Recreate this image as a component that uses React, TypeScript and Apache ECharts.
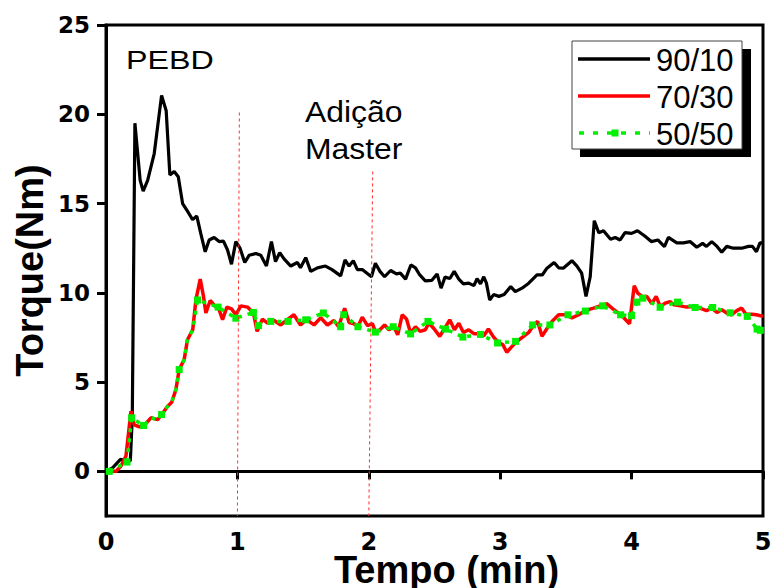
import React, { useEffect, useRef } from "react";
import * as echarts from "echarts";

// ---- data ----
const xTicks = [0, 1, 2, 3, 4, 5];
const yTicks = [0, 5, 10, 15, 20, 25];
const seriesNames = ["90/10", "70/30", "50/50"];

const blackX = [0, 0.05, 0.11, 0.15, 0.185, 0.2, 0.22, 0.26, 0.283, 0.317, 0.367, 0.423, 0.458, 0.486, 0.519, 0.55, 0.583, 0.626, 0.659, 0.691, 0.722, 0.755, 0.785, 0.823, 0.861, 0.894, 0.925, 0.955, 0.988, 1.02, 1.056, 1.089, 1.14, 1.178, 1.221, 1.259, 1.29, 1.322, 1.355, 1.406, 1.457, 1.48, 1.52, 1.558, 1.609, 1.67, 1.72, 1.786, 1.819, 1.85, 1.882, 1.913, 1.95, 2.02, 2.05, 2.085, 2.12, 2.166, 2.21, 2.24, 2.28, 2.32, 2.355, 2.388, 2.43, 2.48, 2.52, 2.55, 2.58, 2.617, 2.65, 2.685, 2.72, 2.76, 2.8, 2.824, 2.85, 2.875, 2.895, 2.92, 2.95, 2.99, 3.03, 3.08, 3.115, 3.166, 3.217, 3.28, 3.32, 3.356, 3.41, 3.445, 3.48, 3.546, 3.584, 3.62, 3.653, 3.685, 3.716, 3.75, 3.786, 3.84, 3.875, 3.913, 3.95, 4.0, 4.045, 4.1, 4.15, 4.2, 4.25, 4.28, 4.344, 4.394, 4.445, 4.496, 4.54, 4.57, 4.61, 4.65, 4.686, 4.724, 4.774, 4.838, 4.89, 4.92, 4.95, 4.977, 5.0];
const blackY = [0, 0.2, 0.67, 0.6, 0.58, 3.0, 19.5, 16.3, 15.7, 16.3, 17.8, 21.06, 20.2, 16.6, 16.8, 16.5, 15.0, 14.5, 14.1, 14.3, 13.3, 12.3, 12.96, 13.1, 12.87, 12.9, 12.4, 11.6, 12.87, 12.5, 11.7, 12.1, 12.2, 12.1, 11.5, 12.87, 11.75, 12.25, 11.9, 11.5, 11.7, 11.4, 11.97, 11.2, 11.4, 11.5, 11.3, 10.95, 11.84, 11.5, 11.8, 11.3, 11.3, 10.9, 11.66, 11.2, 10.9, 11.25, 11.06, 11.1, 10.77, 11.56, 11.4, 11.0, 10.67, 10.7, 11.06, 10.26, 10.88, 10.8, 11.2, 10.77, 10.5, 10.54, 10.4, 10.8, 10.5, 10.9, 10.54, 9.6, 9.9, 9.8, 9.9, 10.35, 10.07, 10.26, 10.54, 11.0, 11.0, 11.38, 11.7, 11.4, 11.38, 11.8, 11.5, 11.1, 9.8, 10.9, 14.04, 13.37, 13.48, 13.0, 13.1, 12.96, 13.37, 13.33, 13.48, 13.18, 12.87, 12.96, 12.59, 13.1, 12.8, 12.8, 12.87, 12.55, 12.77, 12.6, 12.87, 12.6, 12.27, 12.6, 12.5, 12.5, 12.6, 12.6, 12.3, 12.8, 12.8];

const redX = [0, 0.076, 0.114, 0.152, 0.19, 0.215, 0.253, 0.29, 0.342, 0.393, 0.43, 0.469, 0.5, 0.532, 0.557, 0.595, 0.62, 0.66, 0.684, 0.717, 0.742, 0.76, 0.793, 0.828, 0.861, 0.887, 0.92, 0.955, 0.988, 1.026, 1.077, 1.122, 1.15, 1.19, 1.23, 1.28, 1.33, 1.38, 1.43, 1.48, 1.527, 1.583, 1.634, 1.685, 1.735, 1.77, 1.816, 1.85, 1.887, 1.917, 1.95, 1.99, 2.027, 2.05, 2.085, 2.12, 2.153, 2.19, 2.22, 2.254, 2.287, 2.318, 2.355, 2.39, 2.43, 2.457, 2.495, 2.54, 2.576, 2.616, 2.652, 2.685, 2.72, 2.76, 2.8, 2.836, 2.875, 2.91, 2.95, 2.99, 3.02, 3.05, 3.09, 3.128, 3.178, 3.217, 3.255, 3.285, 3.318, 3.356, 3.394, 3.445, 3.495, 3.546, 3.597, 3.647, 3.71, 3.76, 3.81, 3.86, 3.926, 3.984, 4.02, 4.045, 4.078, 4.116, 4.154, 4.187, 4.217, 4.255, 4.293, 4.323, 4.37, 4.42, 4.47, 4.52, 4.57, 4.61, 4.65, 4.686, 4.724, 4.76, 4.8, 4.838, 4.87, 4.914, 4.95, 5.0];
const redY = [0, 0, 0.3, 0.86, 3.37, 2.6, 2.5, 2.57, 3.0, 2.9, 3.24, 3.65, 3.87, 4.58, 5.7, 6.26, 7.37, 7.93, 9.6, 10.77, 9.8, 8.87, 9.57, 9.27, 9.05, 8.5, 9.2, 9.1, 8.77, 9.27, 9.2, 8.87, 7.84, 8.53, 8.3, 8.45, 8.2, 8.5, 8.77, 8.2, 8.5, 8.2, 8.6, 8.2, 8.45, 8.1, 9.14, 8.34, 8.27, 8.1, 8.64, 8.16, 8.27, 7.84, 7.93, 8.2, 7.93, 8.1, 7.65, 8.77, 8.53, 7.75, 8.1, 7.84, 7.93, 8.3, 8.0, 7.56, 8.0, 8.49, 7.93, 8.3, 7.78, 7.93, 7.71, 7.71, 7.6, 7.97, 7.52, 7.19, 7.1, 6.67, 7.0, 7.28, 7.56, 7.78, 8.2, 8.4, 7.56, 8.0, 8.4, 8.77, 8.77, 8.6, 8.77, 9.0, 9.14, 9.27, 9.39, 9.09, 8.72, 8.27, 10.4, 10.0, 9.8, 9.8, 9.39, 9.8, 9.24, 9.42, 9.5, 9.33, 9.27, 9.2, 9.24, 9.14, 9.0, 9.14, 8.9, 9.05, 8.87, 8.77, 9.0, 9.14, 8.8, 8.8, 8.77, 8.68];

// green: 1 = square marker drawn at that point, 0 = plain line point
const greenX = [0.025, 0.16, 0.195, 0.286, 0.342, 0.393, 0.423, 0.469, 0.5, 0.532, 0.557, 0.595, 0.62, 0.66, 0.697, 0.853, 0.988, 1.122, 1.16, 1.254, 1.385, 1.52, 1.654, 1.786, 1.81, 1.917, 2.05, 2.186, 2.318, 2.45, 2.584, 2.716, 2.85, 2.98, 3.117, 3.247, 3.378, 3.516, 3.648, 3.78, 3.916, 4.0, 4.04, 4.085, 4.217, 4.35, 4.483, 4.617, 4.75, 4.88, 4.955, 4.98];
const greenY = [0, 0.52, 3.0, 2.57, 3.0, 2.9, 3.18, 3.65, 3.87, 4.58, 5.7, 6.26, 7.37, 7.93, 9.6, 9.2, 8.58, 8.9, 8.16, 8.4, 8.4, 8.49, 8.87, 8.1, 8.77, 8.1, 7.8, 8.1, 7.7, 8.4, 7.97, 7.52, 7.67, 7.19, 7.28, 8.2, 8.2, 8.77, 8.98, 9.27, 8.77, 8.72, 9.48, 9.7, 9.19, 9.48, 9.18, 9.18, 8.88, 8.68, 7.97, 7.9];
const greenMark = [1, 1, 1, 1, 0, 0, 1, 0, 0, 0, 1, 0, 0, 0, 1, 1, 1, 1, 1, 1, 1, 1, 1, 1, 1, 1, 1, 1, 1, 1, 1, 1, 1, 1, 1, 1, 1, 1, 1, 1, 1, 1, 1, 1, 1, 1, 1, 1, 1, 1, 1, 1];

// dotted "Adição Master" guide lines: [x top, y top, x bottom, y bottom]
const guideLines = [
  [1.015, 20.1, 1.0, -2.5],
  [2.03, 16.8, 2.0, -2.5],
];

const annotations = ["PEBD", "Adição", "Master"];

export default function App() {
  const ref = useRef<HTMLDivElement>(null);

  useEffect(() => {
    if (!ref.current) return;
    const chart = echarts.init(ref.current, null, { renderer: "svg" });

    const zip = (xs: number[], ys: number[]) => xs.map((x, i) => [x, ys[i]]);
    const greenData = greenX.map((x, i) => ({
      value: [x, greenY[i]],
      symbol: greenMark[i] ? "rect" : "none",
    }));

    const sans = "'Liberation Sans', Arial, sans-serif";
    const tickFont = "'DejaVu Sans', sans-serif";

    const legendRows = [59, 96, 133];
    const legendColors = ["#000000", "#ff0000", "#00ee00"];

    const legendGraphics: any[] = [
      { type: "rect", shape: { x: 580, y: 49, width: 171, height: 108 }, style: { fill: "#000" }, silent: true },
      { type: "rect", shape: { x: 572, y: 41, width: 170, height: 108 }, style: { fill: "#fff", stroke: "#444", lineWidth: 1 }, silent: true },
    ];
    seriesNames.forEach((name, i) => {
      const y = legendRows[i];
      if (i < 2) {
        legendGraphics.push({
          type: "line",
          shape: { x1: 578, y1: y, x2: 650, y2: y },
          style: { stroke: legendColors[i], lineWidth: 3.5 },
          silent: true,
        });
      } else {
        legendGraphics.push({
          type: "line",
          shape: { x1: 579, y1: y, x2: 650, y2: y },
          style: { stroke: legendColors[i], lineWidth: 3.5, lineDash: [5, 9] },
          silent: true,
        });
        legendGraphics.push({
          type: "rect",
          shape: { x: 611.5, y: y - 3.5, width: 7, height: 7 },
          style: { fill: legendColors[i] },
          silent: true,
        });
      }
      legendGraphics.push({
        type: "text",
        x: 656,
        y: y + 1,
        style: { text: name, font: `31px ${sans}`, fill: "#000", textAlign: "left", textVerticalAlign: "middle" },
        silent: true,
      });
    });

    const annotationGraphics: any[] = [
      { type: "text", x: 126, y: 47, scaleX: 1.24, style: { text: annotations[0], font: `26px ${sans}`, fill: "#000", textAlign: "left", textVerticalAlign: "top" }, silent: true },
      { type: "text", x: 305, y: 97, scaleX: 1.1, style: { text: annotations[1], font: `29px ${sans}`, fill: "#000", textAlign: "left", textVerticalAlign: "top" }, silent: true },
      { type: "text", x: 305, y: 134, scaleX: 1.1, style: { text: annotations[2], font: `29px ${sans}`, fill: "#000", textAlign: "left", textVerticalAlign: "top" }, silent: true },
    ];

    const option: any = {
      animation: false,
      backgroundColor: "#ffffff",
      grid: {
        left: 106,
        right: 8,
        top: 25,
        bottom: 72,
        containLabel: false,
        outerBoundsMode: "none",
        show: true,
        borderColor: "#000",
        borderWidth: 3,
        backgroundColor: "transparent",
      },
      xAxis: {
        type: "value",
        min: 0,
        max: 5,
        interval: 1,
        name: "Tempo (min)",
        nameLocation: "middle",
        nameGap: 35,
        nameMoveOverlap: false,
        nameTextStyle: { fontFamily: sans, fontWeight: "bold", fontSize: 38, color: "#000", padding: [0, 0, 0, 24] },
        axisLine: { show: true, lineStyle: { color: "#000", width: 3 } },
        axisTick: { show: true, inside: false, length: 8, lineStyle: { color: "#000", width: 3 } },
        axisLabel: {
          customValues: xTicks,
          fontFamily: tickFont,
          fontWeight: "bold",
          fontSize: 24,
          color: "#000",
          margin: 14,
        },
        splitLine: { show: false },
      },
      yAxis: {
        type: "value",
        min: -2.5,
        max: 25,
        interval: 2.5,
        name: "Torque(Nm)",
        nameLocation: "middle",
        nameRotate: 90,
        nameGap: 57,
        nameMoveOverlap: false,
        nameTextStyle: { fontFamily: sans, fontWeight: "bold", fontSize: 38, color: "#000", padding: [0, 0, 0, 0] },
        axisLine: { show: true, lineStyle: { color: "#000", width: 3 } },
        axisTick: { show: true, inside: false, length: 9, customValues: yTicks, lineStyle: { color: "#000", width: 3 } },
        axisLabel: {
          customValues: yTicks,
          fontFamily: tickFont,
          fontWeight: "bold",
          fontSize: 23,
          color: "#000",
          margin: 16,
        },
        splitLine: { show: false },
      },
      series: [
        {
          name: seriesNames[0],
          type: "line",
          data: zip(blackX, blackY),
          showSymbol: false,
          symbol: "none",
          lineStyle: { color: "#000", width: 3.2 },
          z: 2,
          markLine: {
            silent: true,
            symbol: ["none", "none"],
            label: { show: false },
            lineStyle: { color: "#ff3030", width: 1, type: [3, 3] },
            data: guideLines.map((g) => [{ coord: [g[0], g[1]] }, { coord: [g[2], g[3]] }]),
          },
        },
        {
          name: seriesNames[1],
          type: "line",
          data: zip(redX, redY),
          showSymbol: false,
          symbol: "none",
          lineStyle: { color: "#ff0000", width: 3.5 },
          z: 3,
        },
        {
          name: seriesNames[2],
          type: "line",
          data: greenData,
          symbol: "rect",
          symbolSize: 7,
          showAllSymbol: true,
          itemStyle: { color: "#00ee00" },
          lineStyle: { color: "#00ee00", width: 3.5, type: [4, 6] },
          z: 4,
        },
      ],
      graphic: [...annotationGraphics, ...legendGraphics],
    };

    chart.setOption(option);
    return () => chart.dispose();
  }, []);

  return (
    <div
      ref={ref}
      style={{ position: "fixed", left: 0, top: 0, width: 771, height: 588, background: "#fff" }}
    />
  );
}
